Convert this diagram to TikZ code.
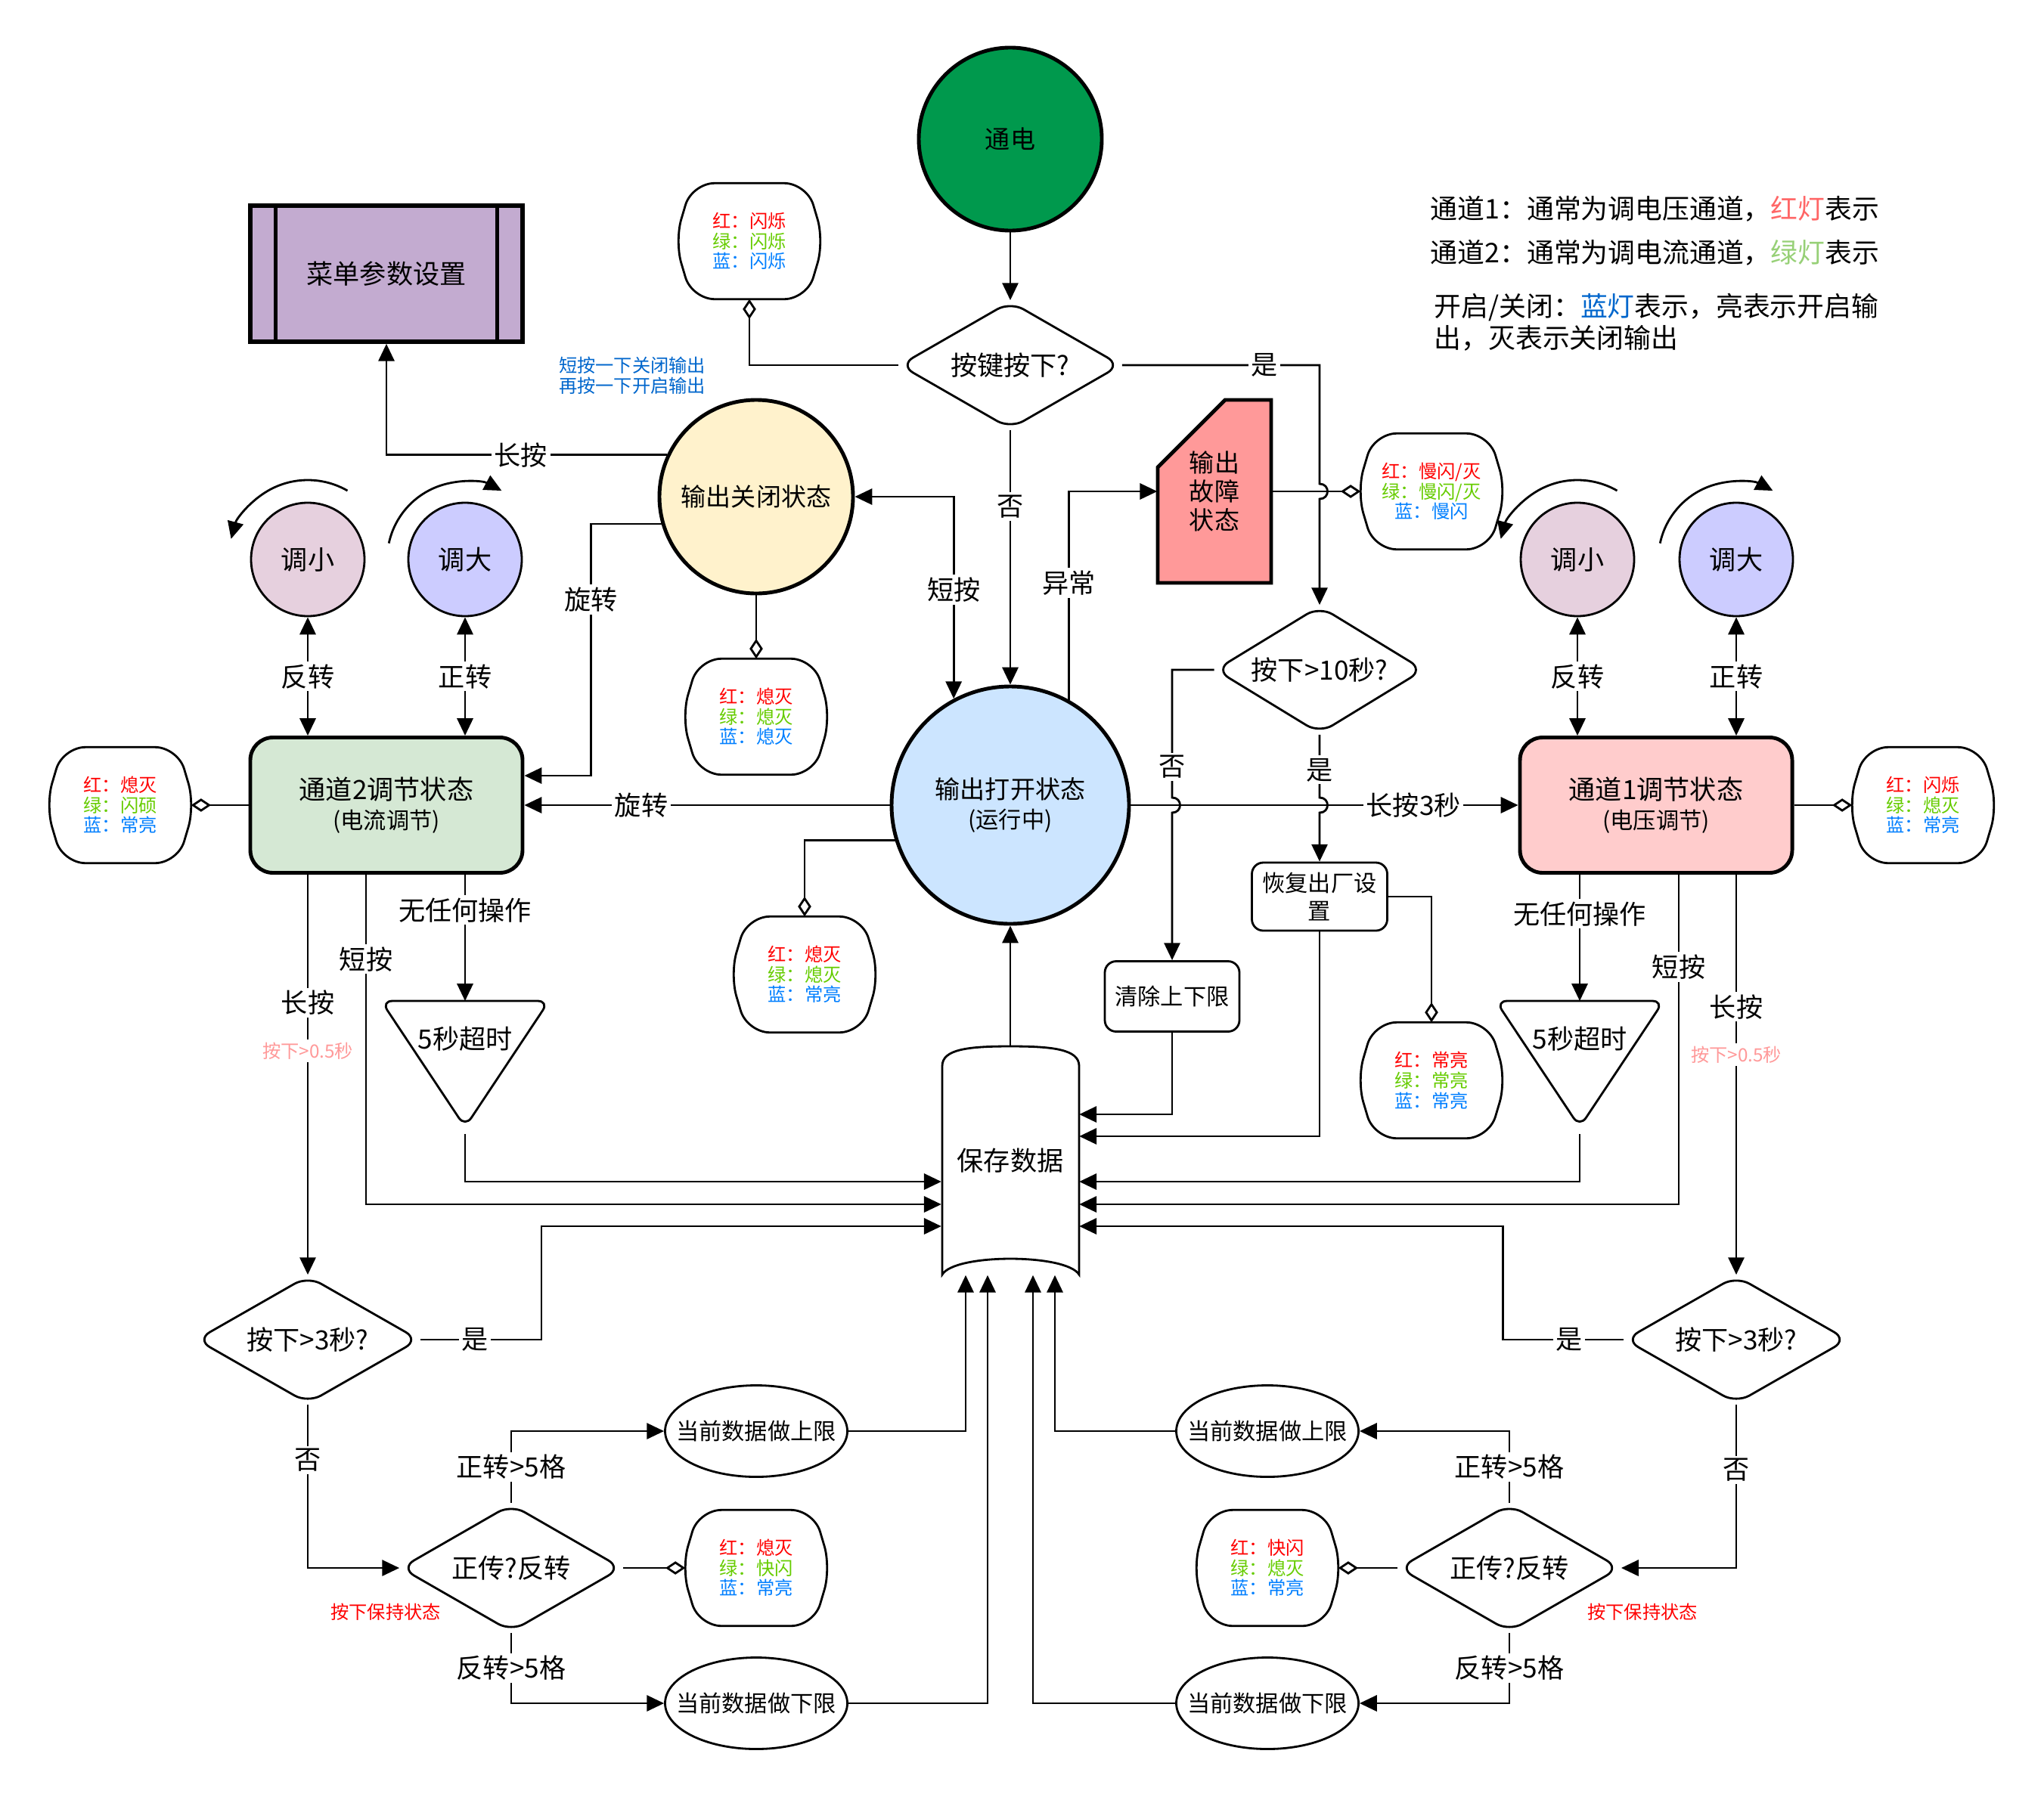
\documentclass[tikz,border=0pt]{standalone}
\usepackage{fontspec}
\setmainfont{Noto Sans CJK SC}
\usepackage{xcolor}
\usetikzlibrary{arrows.meta,positioning,shapes.geometric}

\definecolor{powergreen}{HTML}{00994D}
\definecolor{menupurple}{HTML}{C3ABD0}
\definecolor{offyellow}{HTML}{FFF2CC}
\definecolor{onblue}{HTML}{CCE5FF}
\definecolor{faultred}{HTML}{FF9999}
\definecolor{chgreen}{HTML}{D5E8D4}
\definecolor{chpink}{HTML}{FFCCCC}
\definecolor{decpink}{HTML}{E6D0DE}
\definecolor{incblue}{HTML}{CCCCFF}
\definecolor{ledred}{HTML}{FF0000}
\definecolor{ledgreen}{HTML}{66CC00}
\definecolor{ledblue}{HTML}{007FFF}
\definecolor{lgred}{HTML}{FF6666}
\definecolor{lggreen}{HTML}{97D077}
\definecolor{lgblue}{HTML}{0066CC}
\definecolor{pinkred}{HTML}{FF9999}

\newcommand{\lednote}[5]{%
  \node[lednote] (#1) at (#2) {\textcolor{ledred}{红：#3}\\\textcolor{ledgreen}{绿：#4}\\\textcolor{ledblue}{蓝：#5}};
  \draw[noteline] ([xshift=-7.6mm]#1.north) -- ([xshift=7.6mm]#1.north) -- ([xshift=0.5mm]#1.east)
    -- ([xshift=7.6mm]#1.south) -- ([xshift=-7.6mm]#1.south) -- ([xshift=-0.5mm]#1.west) -- cycle;}

\begin{document}
\begin{tikzpicture}[
    x=1cm,y=-1cm,
    every node/.style={font=\fontsize{10}{12}\selectfont},
    state/.style={circle,draw=black,line width=1.4pt,inner sep=0pt,align=center,font=\fontsize{9.4}{12}\selectfont},
    knob/.style={circle,draw=black,line width=0.8pt,minimum size=15mm,inner sep=0pt},
    block/.style={rectangle,rounded corners=3mm,draw=black,line width=1.4pt,minimum width=36mm,minimum height=17.9mm,align=center},
    menu/.style={rectangle,draw=black,line width=1.6pt,fill=menupurple,minimum width=36mm,minimum height=18mm},
    box/.style={rectangle,rounded corners=1.5mm,draw=black,line width=0.8pt,align=center,inner sep=1pt,font=\fontsize{8.6}{10.7}\selectfont},
    query/.style={diamond,aspect=1.7,draw=black,line width=0.8pt,rounded corners=2mm,inner sep=0pt,fill=white,minimum width=#1,minimum height=16.9mm},
    query/.default=29.3mm,
    limit/.style={ellipse,draw=black,line width=0.8pt,minimum width=24.1mm,minimum height=12.1mm,inner sep=0pt,font=\fontsize{8.6}{10}\selectfont},
    lednote/.style={rectangle,minimum width=18.6mm,minimum height=15.2mm,inner sep=0pt,align=center,font=\fontsize{6.9}{7.6}\selectfont},
    noteline/.style={draw=black,line width=0.8pt,rounded corners=3mm},
    flow/.style={line width=0.8pt,-{Triangle[length=6.5pt,width=6pt]}},
    twoway/.style={line width=0.8pt,{Triangle[length=6.5pt,width=6pt]}-{Triangle[length=6.5pt,width=6pt]}},
    tie/.style={line width=0.8pt,-{Diamond[open,length=7.5pt,width=5pt]}},
    tag/.style={fill=white,inner sep=1pt,font=\fontsize{10}{12}\selectfont},
    hint/.style={inner sep=1pt,align=center,font=\fontsize{6.9}{7.6}\selectfont}
]
\useasboundingbox (0,0) rectangle (27.03,23.76);

\node[state,fill=powergreen,minimum size=24.2mm] (pwr) at (13.36,1.84) {通电};
\node[query] (key) at (13.36,4.83) {按键按下?};
\lednote{nkey}{9.91,3.19}{闪烁}{闪烁}{闪烁}
\node[menu] (menu) at (5.11,3.62) {菜单参数设置};
\draw[line width=1.4pt] ([xshift=3.6mm]menu.north west) -- ([xshift=3.6mm]menu.south west);
\draw[line width=1.4pt] ([xshift=-3.6mm]menu.north east) -- ([xshift=-3.6mm]menu.south east);
\node[hint,text=lgblue] (tip) at (8.36,4.97) {短按一下关闭输出\\再按一下开启输出};
\node[state,fill=offyellow,minimum size=25.6mm] (off) at (10.00,6.57) {输出关闭状态};
\lednote{noff}{10.00,9.48}{熄灭}{熄灭}{熄灭}
\node[state,fill=onblue,minimum size=31.4mm] (on) at (13.36,10.65) {输出打开状态\\[-1pt]\fontsize{8.6}{10}\selectfont(运行中)};
\lednote{non}{10.64,12.89}{熄灭}{熄灭}{常亮}

\draw[line width=1.4pt,fill=faultred] (15.31,6.18) -- (16.20,5.29) -- (16.81,5.29) -- (16.81,7.71) -- (15.31,7.71) -- cycle;
\node[align=center,font=\fontsize{9.4}{10.8}\selectfont,minimum width=15mm,minimum height=24.2mm,inner sep=0pt] (fault) at (16.06,6.50) {输出\\故障\\状态};
\lednote{nfault}{18.93,6.50}{慢闪/灭}{慢闪/灭}{慢闪}

\node[query=27.6mm] (d10) at (17.45,8.86) {按下>10秒?};
\node[box,minimum width=17.9mm,minimum height=9mm] (rst) at (17.45,11.86) {恢复出厂设\\置};
\lednote{nrst}{18.93,14.29}{常亮}{常亮}{常亮}
\node[box,minimum width=17.8mm,minimum height=9.3mm] (clr) at (15.50,13.18) {清除上下限};

\draw[line width=0.8pt,fill=white] (12.46,16.86) -- (12.46,14.10) .. controls (12.46,13.88) and (12.80,13.84) .. (13.36,13.84)
  .. controls (13.92,13.84) and (14.27,13.88) .. (14.27,14.10) -- (14.27,16.86) .. controls (14.10,16.58) and (12.62,16.58) .. (12.46,16.86) -- cycle;
\node[minimum width=18.1mm,minimum height=30.2mm,inner sep=0pt] (save) at (13.36,15.35) {保存数据};

\node[knob,fill=decpink] (dec2) at (4.07,7.40) {调小};
\node[knob,fill=incblue] (inc2) at (6.15,7.40) {调大};
\node[block,fill=chgreen] (ch2) at (5.11,10.65) {通道2调节状态\\[-1pt]\fontsize{8.6}{10}\selectfont(电流调节)};
\lednote{nch2}{1.59,10.65}{熄灭}{闪硕}{常亮}
\draw[line width=0.8pt,rounded corners=1.5mm] (5.04,13.24) -- (7.26,13.24) -- (6.15,14.91) -- cycle;
\node (to2) at (6.15,13.74) {5秒超时};
\coordinate (to2in) at (6.15,13.24);
\coordinate (to2out) at (6.15,15.00);
\node[query=29.5mm] (dl) at (4.07,17.72) {按下>3秒?};
\node[query] (sl) at (6.76,20.74) {正传?反转};
\lednote{nsl}{10.00,20.74}{熄灭}{快闪}{常亮}
\node[limit] (ul) at (10.00,18.93) {\makebox[0pt]{当前数据做上限}};
\node[limit] (ll) at (10.00,22.53) {\makebox[0pt]{当前数据做下限}};
\node[hint,text=ledred] (holdl) at (5.10,21.32) {按下保持状态};

\node[knob,fill=decpink] (dec1) at (20.86,7.40) {调小};
\node[knob,fill=incblue] (inc1) at (22.96,7.40) {调大};
\node[block,fill=chpink] (ch1) at (21.90,10.65) {通道1调节状态\\[-1pt]\fontsize{8.6}{10}\selectfont(电压调节)};
\lednote{nch1}{25.43,10.65}{闪烁}{熄灭}{常亮}
\draw[line width=0.8pt,rounded corners=1.5mm] (19.78,13.24) -- (22.00,13.24) -- (20.89,14.91) -- cycle;
\node (to1) at (20.89,13.74) {5秒超时};
\coordinate (to1in) at (20.89,13.24);
\coordinate (to1out) at (20.89,15.00);
\node[query=29.5mm] (dr) at (22.96,17.72) {按下>3秒?};
\node[query] (sr) at (19.96,20.74) {正传?反转};
\lednote{nsr}{16.76,20.74}{快闪}{熄灭}{常亮}
\node[limit] (ur) at (16.76,18.93) {\makebox[0pt]{当前数据做上限}};
\node[limit] (lr) at (16.76,22.53) {\makebox[0pt]{当前数据做下限}};
\node[hint,text=ledred] (holdr) at (21.72,21.32) {按下保持状态};

\node[anchor=west,inner sep=0pt,font=\fontsize{10.2}{12}\selectfont] (lg1) at (18.91,2.76) {通道1：通常为调电压通道，\textcolor{lgred}{红灯}表示};
\node[anchor=west,inner sep=0pt,font=\fontsize{10.2}{12}\selectfont] (lg2) at (18.91,3.34) {通道2：通常为调电流通道，\textcolor{lggreen}{绿灯}表示};
\node[anchor=west,inner sep=0pt,align=left,font=\fontsize{10.2}{11.9}\selectfont] (lg3) at (18.96,4.26) {开启/关闭：\textcolor{lgblue}{蓝灯}表示，亮表示开启输\\出，灭表示关闭输出};

\draw[flow] (pwr.south) -- (key.north);
\draw[tie] (key.west) -| (nkey.south);
\draw[flow] (key.south) -- node[tag,pos=0.30]{否} (on.north);
\draw[flow] (key.east) -| node[tag,pos=0.36]{是} (17.45,6.40) .. controls +(0.14,0) and +(0.14,0) .. (17.45,6.60) -- (d10.north);
\draw[flow] (off.155) -| node[tag,pos=0.26]{长按} (menu.south);
\draw[flow] (off.196) -- ++(-0.93,0) |- node[tag,pos=0.15]{旋转} ([yshift=3.9mm]ch2.east);
\draw[tie] (off.south) -- (noff.north);
\draw[twoway] (off.east) -| node[tag,pos=0.73]{短按} (on.118);
\draw[flow] (on.west) -- node[tag,pos=0.68]{旋转} (ch2.east);
\draw[tie] (on.197) -| (non.north);
\draw[flow] (on.61) |- node[tag,pos=0.28]{异常} (fault.west);
\draw[tie] (fault.east) -- (nfault.west);
\draw[flow] (on.east) -- node[tag,pos=0.73]{长按3秒} (ch1.west);
\draw[flow] (d10.west) -| node[tag,pos=0.88]{否} (15.50,10.55) .. controls +(0.14,0) and +(0.14,0) .. (15.50,10.75) -- (clr.north);
\draw[flow] (d10.south) -- node[tag,pos=0.56]{是} (17.45,10.55) .. controls +(0.14,0) and +(0.14,0) .. (17.45,10.75) -- (rst.north);
\draw[tie] (rst.east) -| (nrst.north);
\draw[flow] (rst.south) |- ([yshift=3.2mm]save.east);
\draw[flow] (clr.south) |- ([yshift=6.1mm]save.east);
\draw[flow] (save.north) -- (on.south);

\draw[flow] ([shift={(60:1.05cm)}]dec2.center) arc[start angle=60,end angle=165,radius=1.05cm];
\draw[flow] ([shift={(168:1.03cm)}]inc2.center) arc[start angle=168,end angle=62,radius=1.03cm];
\draw[twoway] (ch2.north -| dec2) -- node[tag]{反转} (dec2.south);
\draw[twoway] (ch2.north -| inc2) -- node[tag]{正转} (inc2.south);
\draw[tie] (ch2.west) -- (nch2.east);
\draw[flow] (ch2.south -| dl) -- node[tag,pos=0.32]{长按} node[hint,fill=white,text=pinkred,pos=0.44]{按下>0.5秒} (dl.north);
\draw[flow] ([xshift=-2.7mm]ch2.south) |- node[tag,pos=0.128]{短按} ([yshift=-5.8mm]save.west);
\draw[flow] (ch2.south -| to2in) -- node[tag,pos=0.28]{无任何操作} (to2in);
\draw[flow] (to2out) |- ([yshift=-2.8mm]save.west);
\draw[flow] (dl.east) -- node[tag,pos=0.45]{是} ++(1.6,0) |- ([yshift=-8.7mm]save.west);
\draw[flow] (dl.south) |- node[tag,pos=0.17]{否} (sl.west);
\draw[flow] (sl.north) |- node[tag,pos=0.25]{正转>5格} (ul.west);
\draw[flow] (sl.south) |- node[tag,pos=0.25]{反转>5格} (ll.west);
\draw[tie] (sl.east) -- (nsl.west);
\draw[flow] (ul.east) -| ([xshift=-5.9mm]save.south);
\draw[flow] (ll.east) -| ([xshift=-3mm]save.south);

\draw[flow] ([shift={(60:1.05cm)}]dec1.center) arc[start angle=60,end angle=165,radius=1.05cm];
\draw[flow] ([shift={(168:1.03cm)}]inc1.center) arc[start angle=168,end angle=62,radius=1.03cm];
\draw[twoway] (ch1.north -| dec1) -- node[tag]{反转} (dec1.south);
\draw[twoway] (ch1.north -| inc1) -- node[tag]{正转} (inc1.south);
\draw[tie] (ch1.east) -- (nch1.west);
\draw[flow] (ch1.south -| dr) -- node[tag,pos=0.33]{长按} node[hint,fill=white,text=pinkred,pos=0.45]{按下>0.5秒} (dr.north);
\draw[flow] ([xshift=3mm]ch1.south) |- node[tag,pos=0.14]{短按} ([yshift=-5.8mm]save.east);
\draw[flow] (ch1.south -| to1in) -- node[tag,pos=0.31]{无任何操作} (to1in);
\draw[flow] (to1out) |- ([yshift=-2.8mm]save.east);
\draw[flow] (dr.west) -- node[tag,pos=0.45]{是} ++(-1.6,0) |- ([yshift=-8.7mm]save.east);
\draw[flow] (dr.south) |- node[tag,pos=0.2]{否} (sr.east);
\draw[flow] (sr.north) |- node[tag,pos=0.25]{正转>5格} (ur.east);
\draw[flow] (sr.south) |- node[tag,pos=0.25]{反转>5格} (lr.east);
\draw[tie] (sr.west) -- (nsr.east);
\draw[flow] (ur.west) -| ([xshift=5.9mm]save.south);
\draw[flow] (lr.west) -| ([xshift=3mm]save.south);
\end{tikzpicture}
\end{document}
